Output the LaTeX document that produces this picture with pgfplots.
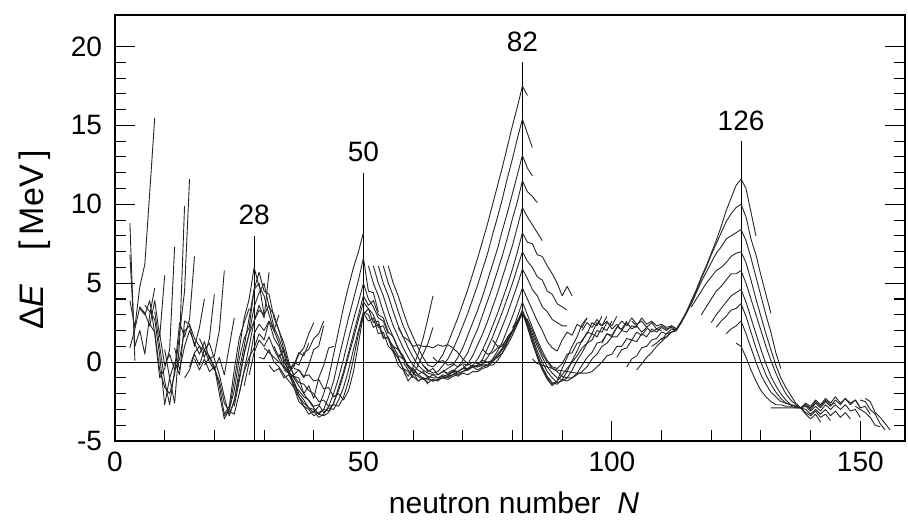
\documentclass[border=0pt]{standalone}
\usepackage{fontspec}
\setmainfont{Liberation Sans}
\usepackage{pgfplots}
\pgfplotsset{compat=1.18}
\pgfplotsset{ch/.style={black!85, line width=0.45pt, mark=none, line join=round}}
\begin{document}
\begin{tikzpicture}
\begin{axis}[
  name=ax, at={(0,0)}, anchor=south west,
  width=395pt, height=213pt, scale only axis,
  xmin=0, xmax=159, ymin=-5, ymax=22,
  axis line style={line width=0.6pt},
  xtick={0,50,100,150},
  minor xtick={10,20,30,40,60,70,80,90,110,120,130,140},
  ytick={-5,0,5,10,15,20},
  minor y tick num=4,
  xtick pos=bottom, ytick pos=both,
  tick align=inside,
  major tick length=10pt, minor tick length=5.5pt,
  every tick/.style={black, line width=0.5pt},
  /pgf/number format/assume math mode=true,
  tick label style={font=\fontsize{14}{16}\selectfont},
  yticklabel style={xshift=-3pt},
  xticklabel style={yshift=-2pt},
  xlabel={neutron number\ \ \textit{N}},
  ylabel={Δ\textit{E}\quad[\,MeV\,]},
  xlabel style={font=\fontsize{15}{17}\selectfont, at={(axis description cs:0.5,0)}, anchor=center, yshift=-31pt, xshift=2pt},
  ylabel style={font=\fontsize{17}{19}\selectfont, at={(axis description cs:-0.1013,0.472)}, anchor=center},
]
% reference lines
\addplot[black, line width=0.5pt] coordinates {(0,0) (159,0)};
\addplot[black, line width=0.5pt] coordinates {(28,-5) (28,8)};
\addplot[black, line width=0.5pt] coordinates {(50,-5) (50,12)};
\addplot[black, line width=0.5pt] coordinates {(82,-5) (82,19)};
\addplot[black, line width=0.5pt] coordinates {(126,-5) (126,14)};
\node[anchor=base, inner sep=0pt, yshift=5.5pt, font=\fontsize{14}{16}\selectfont] at (axis cs:28,8) {28};
\node[anchor=base, inner sep=0pt, yshift=5.5pt, font=\fontsize{14}{16}\selectfont] at (axis cs:50,12) {50};
\node[anchor=base, inner sep=0pt, yshift=5.5pt, font=\fontsize{14}{16}\selectfont] at (axis cs:82,19) {82};
\node[anchor=base, inner sep=0pt, yshift=5.5pt, font=\fontsize{14}{16}\selectfont] at (axis cs:126,14) {126};
% light chains
\addplot[ch] coordinates {(3,8.8) (4,0.1)};
\addplot[ch] coordinates {(3,6.8) (4,1.0) (5,2.0) (6,0.5) (7,3.0) (8,4.7)};
\addplot[ch] coordinates {(3,3.9) (4,2.2) (5,4.8) (6,6.2) (7,10.8) (8,15.5)};
\addplot[ch] coordinates {(3,0.9) (4,2.1) (5,3.5) (6,3.1) (7,2.3) (8,3.9) (9,1.6) (10,5.5)};
\addplot[ch] coordinates {(5,3.4) (6,3.0) (7,3.9) (8,1.8) (9,-1.0) (10,-0.4) (11,0.8) (12,7.3)};
\addplot[ch] coordinates {(6,3.6) (7,3.2) (8,2.7) (9,0.4) (10,-2.7) (11,-1.0) (12,-2.6) (13,1.3) (14,9.9)};
\addplot[ch] coordinates {(7,2.4) (8,1.9) (9,-0.5) (10,-1.6) (11,-2.0) (12,-0.8) (13,1.8) (14,4.5) (15,11.6)};
\addplot[ch] coordinates {(8,3.2) (9,1.0) (10,-1.2) (11,-2.7) (12,-0.5) (13,2.5) (14,1.6) (15,2.7) (16,6.7)};
\addplot[ch] coordinates {(9,1.8) (10,-0.2) (11,0.5) (12,-0.5) (13,0.2) (14,2.0) (15,2.3) (16,1.0) (17,2.2) (18,4.0)};
\addplot[ch] coordinates {(10,0.8) (11,-1.0) (12,0.0) (13,-0.8) (14,2.6) (15,2.4) (16,1.5) (17,1.0) (18,0.3) (19,1.5) (20,4.3)};
\addplot[ch] coordinates {(12,0.9) (13,-0.5) (14,1.0) (15,2.0) (16,1.2) (17,0.5) (18,1.3) (19,0.2) (20,0.4) (21,2.0) (22,5.8)};
\addplot[ch] coordinates {(14,-1.0) (15,-0.5) (16,0.5) (17,-0.2) (18,0.8) (19,0.0) (20,-0.5) (21,0.3) (22,-0.8) (23,1.0) (24,2.8)};
\addplot[ch] coordinates {(15,-0.3) (16,0.6) (17,1.0) (18,0.7) (19,0.4) (20,-0.3) (21,-1.5) (22,-3.3) (23,-2.8) (24,-0.5) (25,1.5) (26,2.5) (27,3.4)};
\addplot[ch] coordinates {(16,0.2) (17,-0.5) (18,0.2) (19,-0.6) (20,-0.3) (21,-2.0) (22,-3.6) (23,-3.0) (24,-1.8) (25,0.2) (26,1.5) (27,2.2) (28,4.6) (29,5.0) (30,3.0)};
\addplot[ch] coordinates {(17,1.5) (18,0.8) (19,1.2) (20,0.2) (21,-0.8) (22,-2.2) (23,-3.4) (24,-2.4) (25,-1.0) (26,0.6) (27,1.8) (28,2.6) (29,3.6) (30,2.8) (31,5.7)};
\addplot[ch] coordinates {(18,-0.2) (19,0.3) (20,-0.4) (21,-1.2) (22,-2.6) (23,-3.1) (24,-3.3) (25,-2.0) (26,-0.6) (27,0.3) (28,0.9) (29,1.8) (30,1.4) (31,2.6) (32,2.0) (33,3.0)};
% 28-50 chains
\addplot[ch] coordinates {(22,-3.4) (23,-3.0) (24,-1.2) (25,0.8) (26,2.8) (27,4.0) (28,6.0) (29,4.8) (30,4.2) (31,3.0) (32,2.0) (33,1.2) (34,0.2) (35,-0.6) (36,-0.3) (37,0.5) (38,0.9) (39,1.8) (40,2.5)};
\addplot[ch] coordinates {(23,-3.3) (24,-2.5) (25,-0.5) (26,1.0) (27,2.8) (28,4.6) (29,5.7) (30,4.5) (31,4.3) (32,2.8) (33,2.0) (34,0.8) (35,-0.2) (36,-0.8) (37,-0.5) (38,-1.0) (39,-0.2) (40,0.8) (41,1.0) (42,2.3)};
\addplot[ch] coordinates {(24,-2.8) (25,-1.2) (26,0.5) (27,1.8) (28,3.5) (29,4.4) (30,5.0) (31,3.5) (32,3.0) (33,2.0) (34,1.2) (35,0.0) (36,-0.9) (37,-1.0) (38,-2.0) (39,-1.5) (40,-2.3) (41,-1.0) (42,-0.2) (43,0.9) (44,1.0)};
\addplot[ch] coordinates {(25,-2.0) (26,-0.5) (27,1.0) (28,2.6) (29,3.3) (30,3.0) (31,3.6) (32,2.2) (33,1.5) (34,0.6) (35,-0.8) (36,-1.2) (37,-2.0) (38,-2.4) (39,-2.9) (40,-3.2) (41,-2.8) (42,-2.0) (43,-1.0) (44,0.5) (45,2.0) (46,3.5) (47,4.8) (48,6.0) (49,7.0) (50,8.2)};
\addplot[ch] coordinates {(26,-1.5) (27,0.0) (28,1.8) (29,2.4) (30,2.0) (31,2.6) (32,1.5) (33,1.0) (34,0.0) (35,-0.5) (36,-1.3) (37,-2.2) (38,-2.8) (39,-3.0) (40,-3.4) (41,-3.2) (42,-3.0) (43,-2.2) (44,-1.2) (45,0.2) (46,1.5) (47,2.8) (48,4.0) (49,5.2) (50,6.6) (51,4.5) (52,4.4) (53,3.2)};
\addplot[ch] coordinates {(27,-0.8) (28,0.6) (29,1.4) (30,1.0) (31,1.6) (32,0.8) (33,0.2) (34,-0.4) (35,-0.6) (36,-1.6) (37,-2.5) (38,-2.8) (39,-3.3) (40,-3.1) (41,-3.5) (42,-3.3) (43,-2.8) (44,-2.0) (45,-1.0) (46,0.2) (47,1.5) (48,2.7) (49,3.8) (50,5.0) (51,4.0) (52,3.5) (53,2.8) (54,2.6) (55,1.8)};
\addplot[ch] coordinates {(29,0.3) (30,0.2) (31,0.8) (32,0.0) (33,-0.3) (34,-0.8) (35,-1.2) (36,-1.6) (37,-2.2) (38,-2.6) (39,-2.9) (40,-3.0) (41,-3.3) (42,-3.0) (43,-3.1) (44,-2.6) (45,-1.8) (46,-0.8) (47,0.4) (48,1.5) (49,2.7) (50,3.8) (51,3.4) (52,3.0) (53,2.2) (54,2.3) (55,1.5) (56,1.0) (57,0.4) (58,0.2)};
\addplot[ch] coordinates {(31,-0.2) (32,-0.6) (33,-0.4) (34,-1.0) (35,-0.8) (36,-1.5) (37,-1.8) (38,-2.2) (39,-2.4) (40,-2.8) (41,-2.7) (42,-3.2) (43,-2.9) (44,-3.0) (45,-2.4) (46,-1.6) (47,-0.5) (48,0.8) (49,2.0) (50,3.2) (51,3.0) (52,2.2) (53,2.4) (54,1.5) (55,1.6) (56,0.8) (57,0.2) (58,-0.4) (59,-0.6) (60,-1.0)};
\addplot[ch] coordinates {(34,-0.5) (35,-0.7) (36,-0.9) (37,-1.3) (38,-1.4) (39,-1.8) (40,-2.0) (41,-2.5) (42,-2.4) (43,-2.8) (44,-2.7) (45,-2.8) (46,-2.2) (47,-1.2) (48,0.2) (49,1.8) (50,3.1) (51,2.6) (52,2.8) (53,1.8) (54,1.9) (55,1.0) (56,0.7) (57,-0.2) (58,-0.5) (59,-1.2) (60,-0.8) (61,-0.2) (62,0.5) (63,1.2) (64,2.2)};
\addplot[ch] coordinates {(36,-0.4) (37,-0.5) (38,-0.9) (39,-0.8) (40,-1.2) (41,-1.1) (42,-1.7) (43,-1.6) (44,-2.2) (45,-2.0) (46,-2.4) (47,-1.8) (48,-0.6) (49,1.2) (50,3.0) (51,3.4) (52,2.5) (53,2.6) (54,1.6) (55,1.5) (56,0.6) (57,0.3) (58,-0.4) (59,-0.9) (60,-0.3) (61,0.5) (62,1.5) (63,2.8) (64,4.2)};
\addplot[ch] coordinates {(33,0.5) (34,-0.2) (35,-0.7) (36,0.0) (37,-0.2) (38,0.6) (39,0.8) (40,1.5) (41,1.8) (42,2.6)};
\addplot[ch] coordinates {(32,1.0) (33,0.3) (34,0.8) (35,-0.4) (36,-0.2) (37,0.6) (38,0.4) (39,1.2)};
\addplot[ch] coordinates {(30,0.9) (32,0.3) (34,-0.3) (36,-1.0) (38,-2.0) (40,-2.9) (41,-3.3) (42,-3.4) (43,-3.2) (44,-2.6) (45,-1.6) (46,-0.6) (47,0.6) (48,1.8) (49,3.0) (50,4.2) (51,3.6) (52,3.9) (53,3.0) (54,2.8) (55,1.9) (56,1.6) (57,0.8) (58,0.4) (59,-0.3) (60,-0.6) (61,-1.2) (62,-1.0) (63,-1.4)};
% 82 family
\addplot[ch] coordinates {(55,6.1) (56,5.0) (57,4.2) (58,3.2) (59,2.3) (60,1.6) (61,0.9) (62,0.3) (63,-0.2) (64,-0.3) (65,0.0) (66,0.5) (67,1.2) (68,2.0) (69,2.8) (70,3.7) (71,4.6) (72,5.6) (73,6.6) (74,7.7) (75,8.8) (76,10.0) (77,11.2) (78,12.4) (79,13.7) (80,15.0) (81,16.2) (82,17.5) (83,16.9)};
\addplot[ch] coordinates {(54,6.1) (55,5.0) (56,4.2) (57,3.2) (58,2.3) (59,1.6) (60,0.9) (61,0.3) (62,-0.2) (63,-0.5) (64,-0.7) (65,-0.6) (66,-0.2) (67,0.2) (68,0.8) (69,1.5) (70,2.3) (71,3.1) (72,4.0) (73,4.9) (74,5.9) (75,6.9) (76,8.1) (77,9.2) (78,10.4) (79,11.7) (80,12.9) (81,14.2) (82,15.4) (83,14.5) (84,13.6)};
\addplot[ch] coordinates {(53,6.1) (54,5.0) (55,4.2) (56,3.2) (57,2.3) (58,1.6) (59,0.9) (60,0.3) (61,-0.2) (62,-0.5) (63,-0.7) (64,-0.8) (65,-0.8) (66,-0.6) (67,-0.4) (68,-0.2) (69,0.3) (70,0.9) (71,1.7) (72,2.5) (73,3.3) (74,4.2) (75,5.2) (76,6.2) (77,7.2) (78,8.4) (79,9.5) (80,10.7) (81,11.9) (82,13.1) (83,12.3) (84,11.8)};
\addplot[ch] coordinates {(52,6.1) (53,5.0) (54,4.2) (55,3.2) (56,2.3) (57,1.6) (58,0.9) (59,0.3) (60,-0.2) (61,-0.5) (62,-0.7) (63,-0.9) (64,-1.0) (65,-1.0) (66,-0.9) (67,-0.8) (68,-0.6) (69,-0.3) (70,0.1) (71,0.6) (72,1.4) (73,2.1) (74,3.0) (75,3.9) (76,4.8) (77,5.8) (78,6.8) (79,7.9) (80,9.1) (81,10.2) (82,11.5) (83,10.8) (84,10.5) (85,10.1)};
\addplot[ch] coordinates {(51,6.1) (52,5.0) (53,4.2) (54,3.2) (55,2.3) (56,1.6) (57,0.9) (58,0.3) (59,-0.2) (60,-0.5) (61,-0.8) (62,-1.0) (63,-1.1) (64,-1.2) (65,-1.1) (66,-1.0) (67,-0.9) (68,-0.8) (69,-0.6) (70,-0.4) (71,-0.1) (72,0.4) (73,1.1) (74,1.8) (75,2.6) (76,3.5) (77,4.4) (78,5.4) (79,6.4) (80,7.4) (81,8.6) (82,9.8) (83,9.2) (84,8.7) (85,8.2) (86,7.7)};
\addplot[ch] coordinates {(56,1.0) (57,0.8) (58,0.2) (59,-0.3) (60,-0.7) (61,-0.9) (62,-1.1) (63,-1.0) (64,-1.2) (65,-1.1) (66,-1.0) (67,-1.1) (68,-0.9) (69,-0.8) (70,-0.6) (71,-0.5) (72,-0.2) (73,0.2) (74,0.8) (75,1.5) (76,2.3) (77,3.1) (78,4.0) (79,4.9) (80,5.9) (81,7.0) (82,8.2) (83,7.6) (84,7.5) (85,6.8) (86,6.7) (87,6.1) (88,5.6) (89,5.0) (90,4.2) (91,4.8) (92,4.2)};
\addplot[ch] coordinates {(57,2.2) (58,1.6) (59,1.4) (60,1.0) (61,1.1) (62,1.0) (63,1.0) (64,0.9) (65,1.1) (66,1.0) (67,1.1) (68,0.9) (69,0.6) (70,0.2) (71,-0.1) (72,-0.3) (73,-0.2) (74,0.2) (75,0.9) (76,1.6) (77,2.4) (78,3.2) (79,4.1) (80,5.0) (81,6.0) (82,7.0) (83,6.4) (84,6.0) (85,5.4) (86,5.2) (87,4.5) (88,4.3) (89,3.7) (90,3.5) (91,3.3)};
\addplot[ch] coordinates {(58,0.0) (59,-0.5) (60,-0.9) (61,-1.2) (62,-1.0) (63,-1.3) (64,-1.1) (65,-1.2) (66,-0.9) (67,-1.0) (68,-0.8) (69,-0.7) (70,-0.6) (71,-0.4) (72,-0.3) (73,-0.2) (74,-0.1) (75,0.3) (76,0.8) (77,1.5) (78,2.3) (79,3.1) (80,4.0) (81,4.9) (82,5.9) (83,5.3) (84,4.6) (85,4.2) (86,3.5) (87,3.2) (88,2.7) (89,2.5) (90,2.3) (91,2.3)};
\addplot[ch] coordinates {(60,-0.4) (61,-0.8) (62,-0.6) (63,-1.0) (64,-0.8) (65,-1.0) (66,-0.8) (67,-0.9) (68,-0.6) (69,-0.6) (70,-0.4) (71,-0.5) (72,-0.3) (73,-0.3) (74,-0.2) (75,-0.2) (76,0.2) (77,0.7) (78,1.3) (79,2.1) (80,2.9) (81,3.8) (82,4.7) (83,4.0) (84,3.3) (85,2.6) (86,2.0) (87,1.3) (88,0.9) (89,0.7) (90,1.4) (91,1.9) (92,1.7) (93,2.4) (94,2.2) (95,2.8)};
\addplot[ch] coordinates {(62,-0.2) (63,-0.6) (64,-0.4) (65,-0.8) (66,-0.6) (67,-0.7) (68,-0.5) (69,-0.6) (70,-0.4) (71,-0.4) (72,-0.2) (73,-0.3) (74,-0.1) (75,-0.2) (76,-0.2) (77,0.1) (78,0.6) (79,1.3) (80,2.0) (81,2.9) (82,3.8) (83,3.0) (84,2.2) (85,1.4) (86,0.7) (87,0.1) (88,-0.3) (89,-0.4) (90,-0.1) (91,0.5) (92,0.6) (93,1.2) (94,1.3) (95,1.9) (96,1.8) (97,2.5) (98,2.3) (99,2.9)};
\addplot[ch] coordinates {(64,0.3) (65,0.0) (66,0.1) (67,-0.2) (68,-0.1) (69,-0.3) (70,-0.1) (71,-0.2) (72,0.0) (73,-0.1) (74,0.1) (75,0.0) (76,0.1) (77,0.3) (78,0.6) (79,1.1) (80,1.7) (81,2.4) (82,3.1) (83,2.3) (84,1.3) (85,0.4) (86,-0.4) (87,-1.0) (88,-1.4) (89,-1.2) (90,-0.8) (91,-0.4) (92,0.0) (93,0.4) (94,0.9) (95,1.2) (96,1.8) (97,1.6) (98,2.2) (99,2.0) (100,2.6)};
\addplot[ch] coordinates {(66,-0.5) (67,-0.8) (68,-0.6) (69,-0.9) (70,-0.7) (71,-0.8) (72,-0.6) (73,-0.6) (74,-0.4) (75,-0.3) (76,0.0) (77,0.4) (78,0.8) (79,1.3) (80,1.9) (81,2.5) (82,3.2) (83,2.2) (84,1.2) (85,0.3) (86,-0.5) (87,-1.1) (88,-1.5) (89,-1.2) (90,-0.4) (91,0.3) (92,1.0) (93,1.6) (94,2.4) (95,2.8)};
\addplot[ch] coordinates {(70,-0.2) (71,-0.5) (72,-0.3) (73,-0.5) (74,-0.3) (75,-0.2) (76,0.1) (77,0.5) (78,0.9) (79,1.4) (80,1.9) (81,2.6) (82,3.2) (83,2.4) (84,1.4) (85,0.5) (86,-0.3) (87,-0.9) (88,-1.3) (89,-1.4) (90,-1.1) (91,-0.6) (92,0.1) (93,0.7) (94,1.4) (95,1.8) (96,2.5) (97,2.3) (98,2.9)};
\addplot[ch] coordinates {(74,0.8) (75,0.5) (76,0.6) (77,0.9) (78,1.0) (79,1.6) (80,2.0) (81,2.6) (82,3.3) (83,2.5) (84,1.6) (85,0.7) (86,0.0) (87,-0.6) (88,-1.0) (89,-1.3) (90,-1.2) (91,-1.0) (92,-0.5) (93,0.1) (94,0.6) (95,1.2) (96,1.4) (97,2.0) (98,1.9) (99,2.5) (100,2.3) (101,2.9)};
\addplot[ch] coordinates {(76,1.4) (77,1.0) (78,1.1) (79,1.5) (80,2.0) (81,2.5) (82,3.1) (83,2.6) (84,1.8) (85,1.0) (86,0.3) (87,-0.3) (88,-0.7) (89,-1.0) (90,-1.1) (91,-1.2) (92,-1.0) (93,-0.7) (94,-0.2) (95,0.3) (96,0.6) (97,1.2) (98,1.3) (99,1.8) (100,1.7) (101,2.2) (102,2.1) (103,2.6)};
\addplot[ch] coordinates {(80,2.2) (81,2.6) (82,3.0) (83,2.7) (84,2.0) (85,1.2) (86,0.5) (87,0.0) (88,-0.4) (89,-0.6) (90,-0.9) (91,-1.0) (92,-1.0) (93,-0.8) (94,-0.6) (95,-0.3) (96,0.2) (97,0.5) (98,1.0) (99,1.2) (100,1.6) (101,1.6) (102,2.0) (103,1.9) (104,2.3) (105,2.2)};
\addplot[ch] coordinates {(84,0.2) (85,-0.1) (87,-0.3) (89,-0.5) (91,-0.6) (93,-0.7) (95,-0.7) (96,-0.6) (97,-0.3) (98,0.0) (99,0.4) (100,0.5) (101,1.0) (102,1.0) (103,1.5) (104,1.4) (105,1.9) (106,1.7) (107,2.1)};
% band 95-113
\addplot[ch] coordinates {(94,2.0) (95,2.5) (96,2.2) (97,2.7) (98,2.3) (99,2.6) (100,2.1) (101,2.4) (102,2.0) (103,2.5) (104,2.1) (105,2.3) (106,1.9) (107,2.2) (108,1.9) (109,2.1) (110,2.0)};
\addplot[ch] coordinates {(98,1.2) (99,1.8) (100,1.6) (101,2.2) (102,2.6) (103,2.3) (104,2.8) (105,2.4) (106,2.6) (107,2.2) (108,2.5) (109,2.1) (110,2.3) (111,2.1) (112,2.2) (113,2.0)};
\addplot[ch] coordinates {(103,-0.3) (104,0.2) (105,0.4) (106,0.9) (107,1.0) (108,1.4) (109,1.5) (110,1.9) (111,1.8) (112,2.1) (113,2.0)};
\addplot[ch] coordinates {(105,-0.5) (106,-0.1) (107,0.3) (108,0.6) (109,1.0) (110,1.3) (111,1.6) (112,1.9) (113,2.0)};
\addplot[ch] coordinates {(101,0.3) (102,0.8) (103,0.9) (104,1.4) (105,1.3) (106,1.8) (107,1.6) (108,2.1) (109,1.9) (110,2.2) (111,2.0) (112,2.3) (113,2.1)};
% 126 family
\addplot[ch] coordinates {(104,2.6) (105,2.3) (106,2.8) (107,2.4) (108,2.6) (109,2.3) (110,2.4) (111,2.2) (112,2.3) (113,2.1) (114,2.6) (115,3.2) (116,3.9) (117,4.6) (118,5.4) (119,6.1) (120,6.9) (121,7.7) (122,8.6) (123,9.6) (124,10.4) (125,11.2) (126,11.6) (127,11.0) (128,9.5) (129,8.0)};
\addplot[ch] coordinates {(108,1.0) (109,1.2) (110,1.5) (111,1.6) (112,1.9) (113,2.0) (114,2.5) (115,3.1) (116,3.8) (117,4.5) (118,5.3) (119,6.0) (120,6.8) (121,7.5) (122,8.2) (123,8.9) (124,9.4) (125,9.8) (126,10.0) (127,9.2) (128,7.8) (129,6.8) (130,5.5) (131,4.3) (132,3.1)};
\addplot[ch] coordinates {(110,1.4) (111,1.8) (112,1.9) (113,2.1) (114,2.6) (115,3.1) (116,3.7) (117,4.4) (118,5.1) (119,5.7) (120,6.3) (121,6.9) (122,7.3) (123,7.8) (124,8.0) (125,8.2) (126,8.4) (127,7.7) (128,6.6) (129,5.4) (130,4.2) (131,3.0) (132,1.9) (133,0.6) (134,-0.4)};
\addplot[ch] coordinates {(116,3.5) (117,4.0) (118,4.5) (119,5.0) (120,5.4) (121,5.8) (122,6.0) (123,6.3) (124,6.7) (125,6.9) (126,7.0) (127,6.3) (128,5.2) (129,4.0) (130,2.9) (131,1.8) (132,0.8) (133,-0.2) (134,-1.0) (135,-1.6) (136,-2.1) (137,-2.6) (138,-2.9) (139,-2.7) (140,-3.0) (141,-2.6) (142,-2.9) (143,-2.5) (144,-2.8) (145,-2.4) (146,-2.7) (147,-2.3) (148,-2.6) (149,-2.4) (150,-2.9)};
\addplot[ch] coordinates {(118,3.0) (119,3.5) (120,4.0) (121,4.5) (122,4.8) (123,5.2) (124,5.6) (125,5.6) (126,5.8) (127,5.0) (128,4.0) (129,3.0) (130,2.0) (131,1.0) (132,0.1) (133,-0.7) (134,-1.4) (135,-2.0) (136,-2.4) (137,-2.7) (138,-2.9) (139,-2.8) (140,-3.1) (141,-2.8) (142,-3.1) (143,-2.7) (144,-3.0) (145,-2.7) (146,-3.0) (147,-2.7) (148,-3.1) (149,-3.0) (150,-3.5)};
\addplot[ch] coordinates {(120,2.5) (121,3.0) (122,3.4) (123,3.8) (124,4.2) (125,4.4) (126,4.6) (127,3.8) (128,2.8) (129,1.8) (130,0.8) (131,-0.1) (132,-0.9) (133,-1.5) (134,-2.0) (135,-2.4) (136,-2.7) (137,-2.8) (138,-2.9) (139,-3.0) (140,-3.3) (141,-3.0) (142,-3.3) (143,-3.0) (144,-3.4) (145,-3.1) (146,-3.5) (147,-3.2) (148,-3.6)};
\addplot[ch] coordinates {(121,2.2) (122,2.6) (123,2.9) (124,3.3) (125,3.4) (126,3.7) (127,2.9) (128,1.9) (129,0.9) (130,0.0) (131,-0.8) (132,-1.4) (133,-1.9) (134,-2.3) (135,-2.6) (136,-2.7) (137,-2.8) (138,-2.9) (139,-3.2) (140,-3.4) (141,-3.1) (142,-3.5) (143,-3.3) (144,-3.7)};
\addplot[ch] coordinates {(123,1.8) (124,2.1) (125,2.3) (126,2.6) (127,1.8) (128,0.9) (129,0.0) (130,-0.8) (131,-1.4) (132,-1.9) (133,-2.2) (134,-2.5) (135,-2.6) (136,-2.7) (137,-2.8) (138,-2.9) (139,-3.3) (140,-3.6) (141,-3.3) (142,-3.8)};
\addplot[ch] coordinates {(125,1.2) (126,1.0) (127,0.3) (128,-0.5) (129,-1.2) (130,-1.8) (131,-2.2) (132,-2.5) (133,-2.7) (134,-2.7) (135,-2.8) (136,-2.8) (137,-2.9) (138,-2.9)};
\addplot[ch] coordinates {(132,-2.9) (133,-2.9) (134,-2.9) (135,-2.9) (136,-2.9) (137,-2.9) (138,-2.9) (139,-2.7) (140,-2.9) (141,-2.5) (142,-2.8) (143,-2.4) (144,-2.7) (145,-2.6)};
% tail
\addplot[ch] coordinates {(138,-2.9) (139,-2.6) (140,-2.8) (141,-2.4) (142,-2.7) (143,-2.3) (144,-2.6) (145,-2.2) (146,-2.6) (147,-2.3) (148,-2.7) (149,-2.4) (150,-2.9) (151,-2.8) (152,-3.3)};
\addplot[ch] coordinates {(151,-2.3) (152,-2.5) (153,-3.2) (154,-3.5) (155,-3.9) (156,-4.3)};
\addplot[ch] coordinates {(150,-2.4) (151,-2.5) (152,-3.0) (153,-3.3) (154,-3.9) (155,-4.3)};
\addplot[ch] coordinates {(149,-2.8) (150,-3.0) (151,-3.2) (152,-3.5) (153,-4.0) (154,-4.1)};
\end{axis}
\pgfresetboundingbox
\path (-57.5pt,-39pt) rectangle (396.5pt,220.5pt);
\end{tikzpicture}
\end{document}
